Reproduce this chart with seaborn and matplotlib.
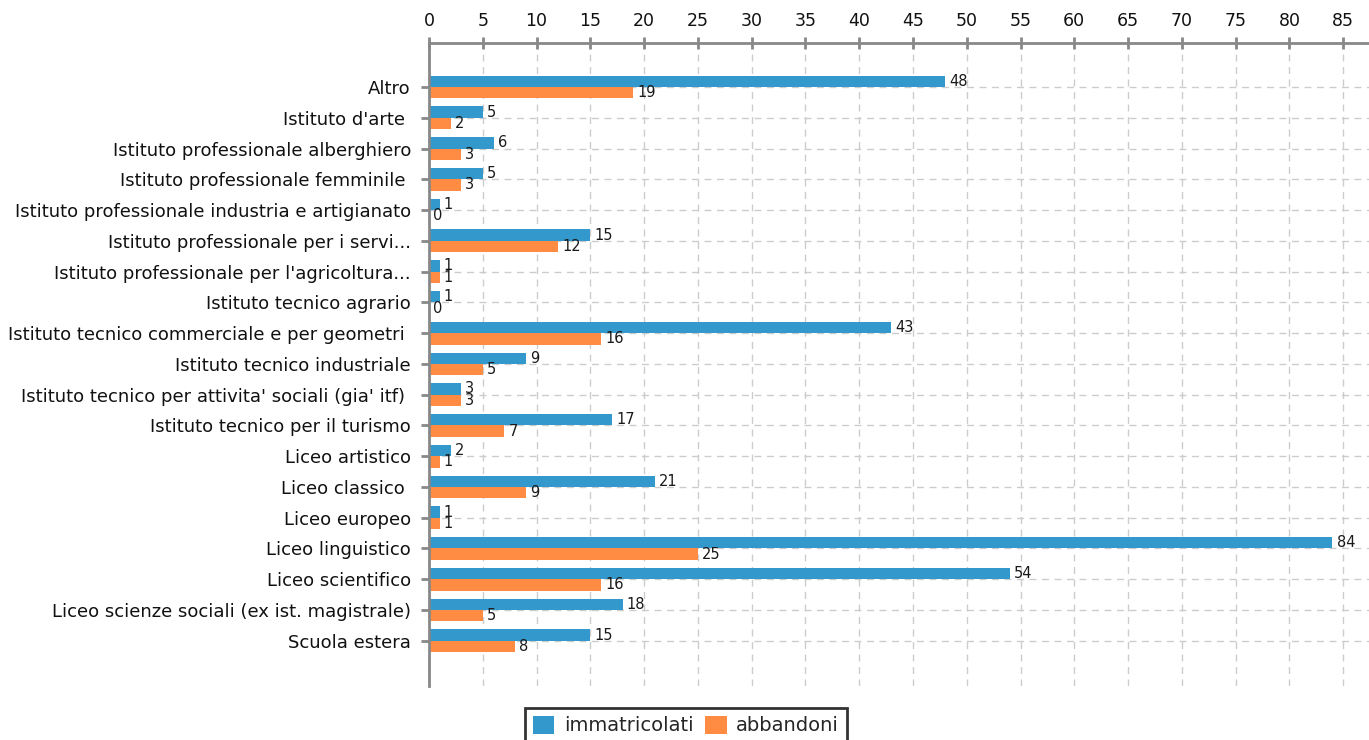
import matplotlib
matplotlib.use("Agg")
import matplotlib.pyplot as plt
import seaborn as sns
import pandas as pd
from matplotlib.patches import Patch

categories = [
    "Altro",
    "Istituto d'arte ",
    "Istituto professionale alberghiero",
    "Istituto professionale femminile ",
    "Istituto professionale industria e artigianato",
    "Istituto professionale per i servi...",
    "Istituto professionale per l'agricoltura...",
    "Istituto tecnico agrario",
    "Istituto tecnico commerciale e per geometri ",
    "Istituto tecnico industriale",
    "Istituto tecnico per attivita' sociali (gia' itf) ",
    "Istituto tecnico per il turismo",
    "Liceo artistico",
    "Liceo classico ",
    "Liceo europeo",
    "Liceo linguistico",
    "Liceo scientifico",
    "Liceo scienze sociali (ex ist. magistrale)",
    "Scuola estera",
]
immatricolati = [48, 5, 6, 5, 1, 15, 1, 1, 43, 9, 3, 17, 2, 21, 1, 84, 54, 18, 15]
abbandoni = [19, 2, 3, 3, 0, 12, 1, 0, 16, 5, 3, 7, 1, 9, 1, 25, 16, 5, 8]
series_names = ["immatricolati", "abbandoni"]
colors = ["#3399cc", "#ff8c42"]
x_ticks = list(range(0, 90, 5))

df = pd.DataFrame({
    "categoria": categories * 2,
    "valore": immatricolati + abbandoni,
    "serie": [series_names[0]] * len(categories) + [series_names[1]] * len(categories),
})

sns.set_theme(style="white")
plt.rcParams["font.family"] = ["DejaVu Sans"]

fig = plt.figure(figsize=(13.69, 7.40), dpi=100)
ax = fig.add_axes([429 / 1369, 1 - 686 / 740, 1 - 429 / 1369, (686 - 43) / 740])

sns.barplot(data=df, y="categoria", x="valore", hue="serie", orient="h",
            palette=colors, width=0.74, ax=ax, legend=False, saturation=1,
            order=categories, hue_order=series_names, linewidth=0)

for cont in ax.containers:
    ax.bar_label(cont, padding=3, fontsize=10.5, color="#1a1a1a")

ax.set_xlim(0, 87.4)
ax.set_ylim(19.47, -1.43)
ax.set_xticks(x_ticks)
ax.set_xlabel("")
ax.set_ylabel("")

ax.xaxis.tick_top()
ax.tick_params(axis="x", which="both", direction="inout", length=8, width=2,
               color="#888888", labelsize=12.5, labelcolor="#111111", pad=5,
               top=True, bottom=False)
ax.tick_params(axis="y", direction="out", length=6, width=2, color="#888888",
               labelsize=13, labelcolor="#111111", pad=7, left=True)

for side in ["right", "bottom"]:
    ax.spines[side].set_visible(False)
for side in ["left", "top"]:
    ax.spines[side].set_color("#888888")
    ax.spines[side].set_linewidth(2)

ax.grid(True, axis="both", color="#cccccc", linestyle=(0, (5, 4)), linewidth=1)
ax.set_axisbelow(True)

handles = [Patch(facecolor=c, edgecolor="none") for c in colors]
leg = fig.legend(handles, series_names, loc="upper center",
                 bbox_to_anchor=(686 / 1369, 1 - 698 / 740), ncol=2,
                 frameon=True, fancybox=False, fontsize=14,
                 handlelength=1.1, handleheight=1.1, handletextpad=0.5,
                 columnspacing=0.6, borderpad=0.4)
leg.get_frame().set_edgecolor("black")
leg.get_frame().set_linewidth(2)

fig.savefig("out.png", dpi=100)
